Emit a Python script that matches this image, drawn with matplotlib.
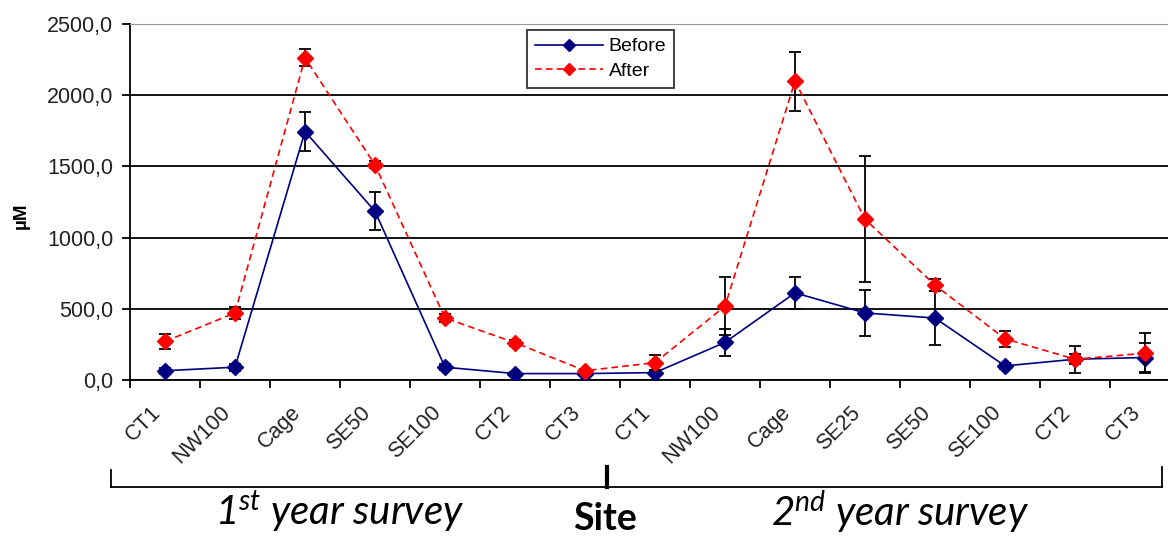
import matplotlib
matplotlib.use("Agg")
import matplotlib.pyplot as plt
from matplotlib.lines import Line2D
import numpy as np

plt.rcParams["font.family"] = ["Liberation Sans", "DejaVu Sans"]
plt.rcParams["mathtext.fontset"] = "custom"
plt.rcParams["mathtext.it"] = "Lato:italic"
plt.rcParams["mathtext.rm"] = "Lato:italic"

sites = ["CT1", "NW100", "Cage", "SE50", "SE100", "CT2", "CT3",
         "CT1", "NW100", "Cage", "SE25", "SE50", "SE100", "CT2", "CT3"]
before = [65, 90, 1745, 1185, 90, 45, 45,
          52, 264, 612, 471, 435, 99, 146, 158]
before_err = [20, 25, 137, 133, 20, 10, 10,
              20, 97, 110, 160, 190, 20, 95, 100]
after = [271, 471, 2262, 1511, 435, 262, 65,
         122, 518, 2099, 1129, 666, 289, 146, 188]
after_err = [53, 42, 59, 25, 25, 20, 10,
             55, 205, 207, 441, 40, 55, 35, 141]
legend_labels = ["Before", "After"]
yticks = [0, 500, 1000, 1500, 2000, 2500]
survey_labels = [r"$1^{st}$ year survey", r"$2^{nd}$ year survey"]

W, H = 1168, 536
fig = plt.figure(figsize=(W / 100, H / 100), dpi=100)
ax = fig.add_axes([130 / W, 1 - 380 / H, 1050 / W, 356 / H])

blue, red = "#000080", "#ff0000"
red_ls = (0, (4, 2.5))
x = np.arange(len(sites))
ax.errorbar(x, before, yerr=before_err, color=blue, lw=1.2, marker="D",
            markersize=8, ecolor="black", elinewidth=1.3, capsize=4, capthick=1.3,
            zorder=3)
ax.errorbar(x, after, yerr=after_err, color=red, lw=1.2, ls=red_ls,
            marker="D", markersize=8, ecolor="black", elinewidth=1.3, capsize=4,
            capthick=1.3, zorder=4)

ax.set_xlim(-0.5, len(sites) - 0.5)
ax.set_ylim(0, 2500)
ax.set_yticks(yticks)
ax.set_yticklabels([f"{v:.1f}".replace(".", ",") for v in yticks],
                   fontsize=15.5, color="#222222")
ax.yaxis.grid(True, color="black", lw=1.3)
ax.set_axisbelow(True)
ax.tick_params(axis="y", length=6, width=1.3, pad=6)

ax.set_xticks(x)
ax.set_xticklabels(sites, rotation=45, ha="right", va="top",
                   fontsize=15.5, color="#222222")
ax.tick_params(axis="x", which="major", length=0, pad=16)
ax.set_xticks(np.arange(len(sites) + 1) - 0.5, minor=True)
ax.tick_params(axis="x", which="minor", length=6, width=1.3)

ax.spines["right"].set_visible(False)
ax.spines["top"].set_color("#999999")
ax.spines["left"].set_linewidth(1.3)
ax.spines["bottom"].set_linewidth(1.3)

ax.set_ylabel("µM", fontsize=13.5, fontweight="bold")
ax.yaxis.set_label_coords(-100 / 1050, 0.46)

handles = [Line2D([], [], color=blue, lw=1.2, marker="D", markersize=6),
           Line2D([], [], color=red, lw=1.2, ls=red_ls, marker="D", markersize=6)]
leg = ax.legend(handles, legend_labels, loc="upper left",
                bbox_to_anchor=((527 - 130) / 1050, 1 - 6 / 356),
                borderaxespad=0, frameon=True, fancybox=False, edgecolor="black",
                fontsize=14, handlelength=3.5, borderpad=0.4, labelspacing=0.35,
                handletextpad=0.3)
leg.get_frame().set_linewidth(1.3)

def fx(px):
    return px / W
def fy(py):
    return 1 - py / H
fig.add_artist(Line2D([fx(111), fx(1162)], [fy(487), fy(487)], color="black", lw=1.3))
fig.add_artist(Line2D([fx(111), fx(111)], [fy(470), fy(487)], color="black", lw=1.3))
fig.add_artist(Line2D([fx(1162), fx(1162)], [fy(467), fy(487)], color="black", lw=1.3))
fig.add_artist(Line2D([fx(607), fx(607)], [fy(467), fy(487)], color="black", lw=3))

fig.text(fx(340), fy(512), survey_labels[0], fontsize=29, family="Lato", style="italic",
         ha="center", va="center")
fig.text(fx(900), fy(512), survey_labels[1], fontsize=29, family="Lato", style="italic",
         ha="center", va="center")
fig.text(fx(605), fy(519), "Site", fontsize=27, family="Lato", fontweight="bold",
         ha="center", va="center")

fig.savefig("out.png", dpi=100)
